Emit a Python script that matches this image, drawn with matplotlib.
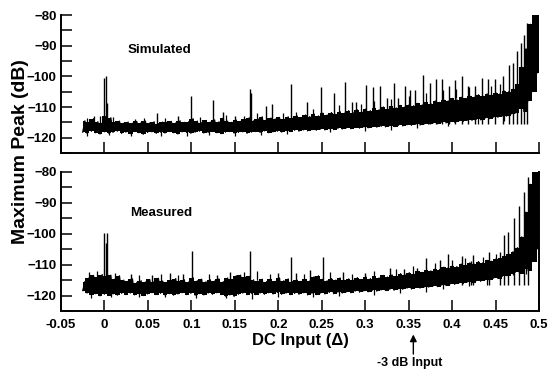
#!/usr/bin/env python3
# Maximum peak vs DC input: simulated (top) and measured (bottom)

import matplotlib
matplotlib.use('Agg')
import matplotlib.pyplot as plt
import numpy as np

plt.rcParams['font.family'] = ['Liberation Sans', 'DejaVu Sans']
plt.rcParams['font.weight'] = 'bold'

# envelope of the noisy trace, sampled every 0.005 from -0.025 to 0.5
x_start, x_end = -0.025, 0.5

sim_lo = [-118.2, -118.6, -117.9, -118.4, -118.8, -118.1, -118.5, -118.3, -117.9, -118.6,
          -118.2, -118.7, -118.0, -118.4, -118.9, -118.3, -118.1, -118.6, -118.2, -118.5,
          -118.0, -118.4, -118.8, -118.1, -118.3, -118.6, -118.2, -117.9, -118.5, -118.3,
          -118.0, -118.4, -118.7, -118.2, -118.0, -118.5, -118.3, -118.1, -118.6, -118.2,
          -118.0, -118.3, -117.8, -118.4, -118.1, -117.9, -118.2, -117.7, -118.0, -117.6,
          -117.9, -117.5, -117.8, -117.4, -117.6, -117.2, -117.5, -117.1, -117.4, -117.0,
          -117.2, -116.8, -117.1, -116.7, -116.9, -116.5, -116.8, -116.4, -116.6, -116.3,
          -116.5, -116.1, -116.4, -116.0, -116.2, -115.8, -116.0, -115.6, -115.9, -115.5,
          -115.6, -115.2, -115.5, -115.0, -115.2, -114.8, -115.0, -114.5, -114.7, -114.3,
          -114.4, -114.0, -114.2, -113.7, -113.8, -113.3, -113.4, -112.9, -113.0, -112.4,
          -112.0, -110.5, -111.5, -108.0, -105.0, -99.0]
sim_hi = [-114.5, -115.0, -113.8, -114.8, -115.2, -113.0, -113.5, -115.0, -114.6, -115.3,
          -114.9, -115.3, -114.7, -115.1, -114.6, -115.2, -114.8, -115.4, -114.9, -115.0,
          -114.7, -115.2, -114.5, -115.0, -114.8, -113.8, -114.6, -115.1, -114.4, -114.9,
          -114.2, -114.8, -113.6, -114.6, -115.0, -114.3, -114.7, -114.0, -113.5, -114.5,
          -113.8, -113.2, -114.2, -113.6, -113.9, -113.4, -114.0, -113.2, -113.7, -112.8,
          -113.4, -112.6, -113.1, -112.3, -112.9, -112.0, -112.6, -111.8, -112.4, -111.5,
          -112.0, -111.2, -111.8, -110.9, -111.5, -110.6, -111.2, -110.3, -110.9, -110.0,
          -110.6, -109.8, -110.3, -109.5, -110.0, -109.2, -109.6, -108.8, -109.3, -108.4,
          -108.9, -108.0, -108.5, -107.6, -108.0, -107.2, -107.6, -106.8, -107.2, -106.4,
          -106.8, -106.0, -106.4, -105.7, -106.0, -105.3, -105.6, -104.8, -105.0, -104.2,
          -102.5, -97.0, -91.0, -83.0, -80.0, -80.0]

meas_lo = [-118.4, -119.2, -119.8, -119.4, -120.1, -119.6, -120.0, -119.5, -119.9, -119.3,
           -119.7, -119.2, -119.8, -119.4, -120.0, -119.5, -119.1, -119.7, -119.3, -119.8,
           -119.4, -119.9, -119.5, -119.1, -119.7, -119.3, -119.9, -119.4, -119.8, -119.2,
           -119.6, -119.1, -119.7, -120.2, -119.8, -120.3, -119.6, -119.2, -119.7, -119.3,
           -119.7, -119.2, -119.6, -119.1, -119.5, -119.0, -119.6, -119.2, -119.7, -119.3,
           -119.6, -119.1, -119.8, -119.3, -119.7, -119.2, -119.5, -119.0, -119.4, -118.9,
           -119.2, -118.8, -119.1, -118.6, -118.9, -118.5, -118.8, -118.3, -118.6, -118.2,
           -118.4, -118.0, -118.3, -117.8, -118.0, -117.6, -117.9, -117.4, -117.6, -117.2,
           -117.3, -116.9, -117.1, -116.6, -116.8, -116.2, -116.4, -115.9, -116.1, -115.6,
           -115.8, -115.2, -115.4, -114.9, -115.0, -114.4, -114.5, -113.8, -113.6, -112.9,
           -112.5, -113.0, -111.5, -112.0, -109.0, -105.0]
meas_hi = [-115.5, -114.2, -113.5, -114.0, -113.2, -113.8, -113.4, -114.6, -113.6, -115.0,
           -115.4, -114.6, -115.8, -115.2, -115.6, -114.8, -115.5, -114.4, -115.3, -115.7,
           -115.1, -114.5, -115.4, -114.9, -115.6, -114.2, -115.2, -114.7, -115.5, -114.9,
           -115.3, -114.6, -115.5, -114.3, -114.8, -113.6, -113.4, -114.0, -113.8, -114.9,
           -115.3, -114.7, -115.5, -114.8, -115.4, -114.3, -115.2, -114.6, -115.5, -115.0,
           -115.4, -114.8, -115.3, -113.9, -113.6, -114.7, -115.2, -114.5, -115.0, -114.3,
           -115.1, -114.6, -115.0, -114.2, -114.8, -114.0, -114.5, -113.8, -114.3, -113.5,
           -114.0, -113.3, -113.8, -112.9, -113.2, -112.6, -113.0, -112.2, -112.5, -111.8,
           -112.0, -111.3, -111.6, -110.8, -111.0, -110.3, -110.6, -109.8, -110.1, -109.4,
           -109.8, -109.0, -109.4, -108.6, -108.9, -108.2, -108.0, -107.2, -106.5, -105.8,
           -104.5, -101.0, -93.0, -84.0, -80.0, -80.0]

# isolated spurs sticking out of the noise (DC input, peak dB)
sim_spur_x = [0.0, 0.0015, 0.003, 0.06, 0.085, 0.1, 0.125, 0.1365, 0.15, 0.1675, 0.169,
              0.1855, 0.193, 0.2143, 0.2327, 0.249, 0.2645, 0.277, 0.2849, 0.2895, 0.301,
              0.3094, 0.317, 0.3248, 0.3328, 0.338, 0.3462, 0.3516, 0.357, 0.366, 0.375,
              0.381, 0.388, 0.3968, 0.4034, 0.411, 0.4187, 0.4264, 0.4345, 0.4417, 0.4494,
              0.459, 0.4659, 0.4698, 0.475, 0.479, 0.483, 0.4866]
sim_spur_y = [-100.5, -100.0, -108.6, -112.0, -113.0, -106.3, -107.8, -111.5, -112.8, -104.1, -105.5,
              -109.8, -108.9, -102.4, -108.5, -103.6, -105.4, -101.9, -108.5, -108.5, -102.7,
              -103.5, -103.0, -107.0, -102.2, -107.0, -103.0, -104.4, -104.4, -99.6, -102.2,
              -100.9, -100.9, -103.1, -101.1, -100.0, -103.0, -103.0, -100.6, -100.9, -101.0,
              -100.0, -96.2, -95.5, -91.9, -89.2, -86.5, -82.7]

meas_spur_x = [-0.0002, 0.0015, 0.0033, 0.03, 0.055, 0.075, 0.09, 0.1007, 0.13, 0.145, 0.168,
               0.2, 0.2143, 0.22, 0.237, 0.251, 0.275, 0.3, 0.329, 0.345, 0.36, 0.3697,
               0.3858, 0.3957, 0.411, 0.4215, 0.4245, 0.4429, 0.4548, 0.46, 0.464, 0.4715,
               0.4775, 0.483, 0.487]
meas_spur_y = [-99.8, -103.0, -99.8, -113.0, -113.2, -112.8, -113.0, -105.7, -113.2, -112.5, -105.7,
               -112.6, -107.5, -112.8, -111.8, -107.5, -112.5, -112.8, -111.1, -111.5, -111.0, -107.8,
               -108.4, -106.5, -107.3, -108.9, -106.8, -105.8, -105.9, -100.5, -99.5, -95.0,
               -91.0, -86.5, -81.5]

# short noise hairs above (grass) and below (dips) the band
sim_grass_x = [-0.02, -0.012, -0.005, 0.01, 0.035, 0.045, 0.07, 0.11, 0.14, 0.16, 0.175,
               0.205, 0.22, 0.24, 0.27, 0.295, 0.31, 0.33, 0.35, 0.37, 0.39, 0.405, 0.42,
               0.445, 0.455]
sim_grass_y = [-113.5, -113.0, -112.8, -113.2, -113.8, -113.5, -113.6, -113.2, -112.5, -113.0,
               -112.0, -111.8, -111.5, -110.5, -109.5, -109.0, -108.0, -107.5, -106.5, -105.5,
               -104.5, -104.0, -103.5, -103.0, -102.5]
sim_dip_x = [-0.02, 0.005, 0.03, 0.065, 0.095, 0.12, 0.15, 0.18, 0.21, 0.26, 0.3, 0.33,
             0.36, 0.395, 0.43, 0.46]
sim_dip_y = [-119.5, -119.2, -119.4, -119.6, -119.3, -119.0, -119.3, -119.0, -118.8, -118.2,
             -117.8, -117.6, -117.0, -116.3, -115.5, -114.5]

meas_grass_x = [-0.018, -0.008, 0.012, 0.04, 0.065, 0.085, 0.12, 0.16, 0.175, 0.19, 0.23,
                0.26, 0.285, 0.31, 0.335, 0.355, 0.38, 0.4, 0.415, 0.435, 0.45]
meas_grass_y = [-112.5, -112.0, -112.8, -113.5, -113.0, -113.5, -113.0, -112.5, -112.0, -113.0,
                -113.0, -112.5, -113.0, -112.0, -111.5, -110.5, -109.5, -108.5, -108.0, -107.5,
                -106.5]
meas_dip_x = [-0.015, 0.008, 0.04, 0.07, 0.105, 0.14, 0.17, 0.2, 0.24, 0.27, 0.31, 0.34,
              0.37, 0.39, 0.42, 0.44, 0.47, 0.485]
meas_dip_y = [-120.8, -120.5, -120.6, -120.4, -120.7, -120.9, -121.0, -120.5, -120.6, -120.2,
              -119.8, -119.2, -118.8, -118.0, -117.0, -116.5, -113.5, -113.0]

x_ticks = [-0.05, 0, 0.05, 0.1, 0.15, 0.2, 0.25, 0.3, 0.35, 0.4, 0.45, 0.5]
x_ticklabels = ['-0.05', '0', '0.05', '0.1', '0.15', '0.2', '0.25', '0.3', '0.35', '0.4', '0.45', '0.5']
y_ticks = [-120, -110, -100, -90, -80]


def draw_trace(ax, lo, hi):
  # solid noise band with ragged (stepped) edges ...
  xe = np.linspace(x_start, x_end, len(lo))
  ax.fill_between(xe, lo, hi, step='mid', color='black', lw=0)
  # ... plus the trace zig-zagging between low and high samples
  vals = np.column_stack([lo, hi]).ravel()
  xs = np.linspace(x_start, x_end, len(vals))
  ax.plot(xs, vals, color='black', lw=0.9)


def style_axes(ax, right_spine):
  ax.set_xlim(-0.05, 0.5)
  ax.set_ylim(-125, -80)
  ax.spines['top'].set_visible(False)
  ax.spines['right'].set_visible(right_spine)
  for s in ax.spines.values():
    s.set_linewidth(1.4)
  ax.set_xticks(x_ticks)
  ax.set_yticks(y_ticks)
  ax.set_yticks(np.arange(-125, -79, 5), minor=True)
  ax.tick_params(direction='in', length=8, width=1.1, labelsize=9.5, pad=3)
  ax.tick_params(which='minor', direction='in', length=8, width=1.1)
  ax.tick_params(axis='x', pad=6)
  for lab in ax.get_yticklabels() + ax.get_xticklabels():
    lab.set_fontweight('bold')


fig = plt.figure(figsize=(5.48, 3.75), dpi=100)
ax1 = fig.add_axes([0.1113, 0.592, 0.8723, 0.368])
ax2 = fig.add_axes([0.1113, 0.1707, 0.8723, 0.3707])

panels = [(ax1, sim_lo, sim_hi, sim_spur_x, sim_spur_y, -115.5,
           sim_grass_x, sim_grass_y, sim_dip_x, sim_dip_y),
          (ax2, meas_lo, meas_hi, meas_spur_x, meas_spur_y, -116.5,
           meas_grass_x, meas_grass_y, meas_dip_x, meas_dip_y)]
for ax, lo, hi, sx, sy, floor, gx, gy, dx, dy in panels:
  draw_trace(ax, lo, hi)
  ax.vlines(sx, floor, sy, color='black', lw=1.0)
  ax.vlines(gx, np.array(gy) - 3, gy, color='black', lw=0.9)
  ax.vlines(dx, dy, np.array(dy) + 3, color='black', lw=0.9)

style_axes(ax1, False)
style_axes(ax2, True)
ax1.set_xticklabels([])
ax2.set_xticklabels(x_ticklabels)

ax1.text(0.063, -91.4, 'Simulated', ha='center', va='center', fontsize=9.6, fontweight='bold')
ax2.text(0.065, -93.3, 'Measured', ha='center', va='center', fontsize=9.6, fontweight='bold')

ax2.set_xlabel('DC Input (\u0394)', fontsize=12, fontweight='bold', labelpad=1)
fig.text(0.037, 0.595, 'Maximum Peak (dB)', rotation=90, ha='center', va='center',
         fontsize=14, fontweight='bold')

ax2.annotate('', xy=(0.3554, -0.149), xytext=(0.3554, -0.33),
             xycoords=ax2.get_xaxis_transform(), textcoords=ax2.get_xaxis_transform(),
             arrowprops=dict(arrowstyle='-|>', color='black', lw=1.0, mutation_scale=10))
ax2.text(0.351, -0.375, '-3 dB Input', transform=ax2.get_xaxis_transform(),
         ha='center', va='center', fontsize=9, fontweight='bold')

plt.savefig('out.png', dpi=100)
